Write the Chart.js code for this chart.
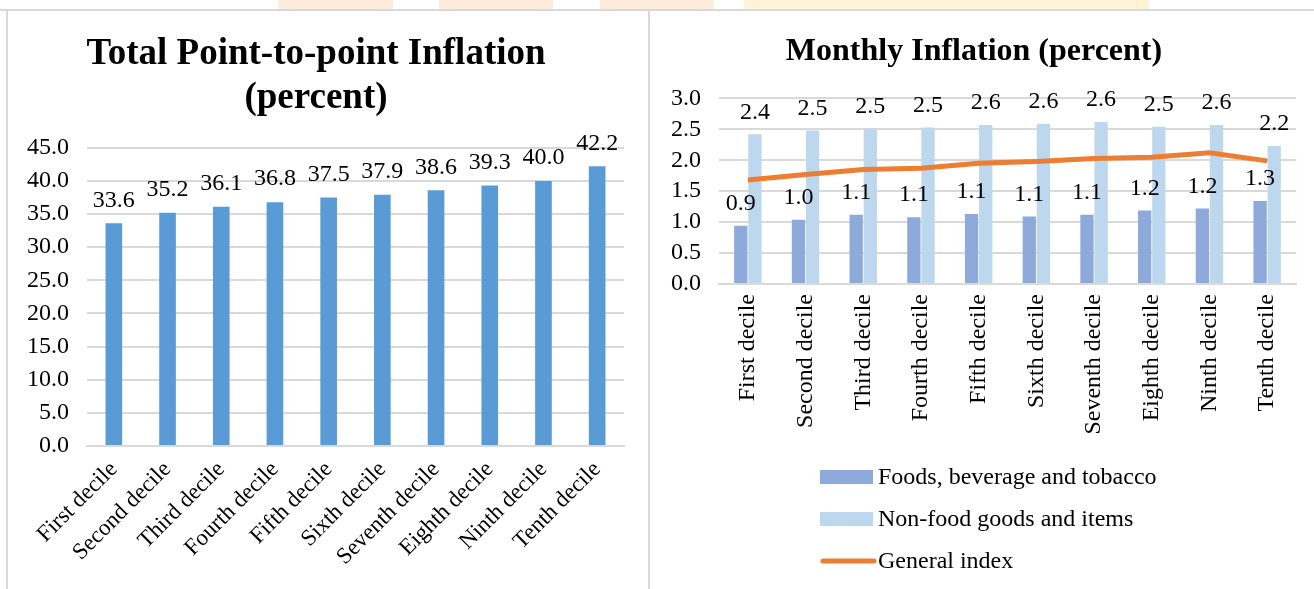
<!DOCTYPE html>
<html>
<head>
<meta charset="utf-8">
<script src="https://cdn.jsdelivr.net/npm/chart.js@4"></script>
<style>
  body { margin: 0; background: #fff; width: 1314px; height: 589px; overflow: hidden; position: relative; }
  .tab { position: absolute; top: 0; height: 9px; background: #fdebdc; }
  .topline { position: absolute; left: 0; top: 9px; width: 1314px; height: 2px; background: #d9d9d9; }
  .panel { position: absolute; top: 10px; height: 579px; }
  #leftPanel { left: 6px; width: 644px; border-left: 2px solid #d9d9d9; border-right: 2px solid #d9d9d9; box-sizing: border-box; }
  #rightPanel { left: 652px; width: 662px; }
  canvas { display: block; }
</style>
</head>
<body>
<div class="tab" style="left:278px;width:115px"></div>
<div class="tab" style="left:439px;width:114px"></div>
<div class="tab" style="left:600px;width:114px"></div>
<div class="tab" style="left:744px;width:405px;background:#fff3d6"></div>
<div class="topline"></div>
<div class="panel" id="leftPanel"><canvas id="totalChart" width="640" height="579"></canvas></div>
<div class="panel" id="rightPanel"><canvas id="monthlyChart" width="662" height="579"></canvas></div>
<script>
const deciles = ['First decile', 'Second decile', 'Third decile', 'Fourth decile', 'Fifth decile',
                 'Sixth decile', 'Seventh decile', 'Eighth decile', 'Ninth decile', 'Tenth decile'];

// total point-to-point inflation by decile
const totalInflation = [33.6, 35.2, 36.1, 36.8, 37.5, 37.9, 38.6, 39.3, 40.0, 42.2];

// monthly inflation by decile
const foodInflation = [0.94, 1.04, 1.12, 1.08, 1.13, 1.09, 1.12, 1.19, 1.22, 1.34];
const nonFoodInflation = [2.42, 2.48, 2.51, 2.53, 2.57, 2.59, 2.62, 2.54, 2.57, 2.23];
const generalIndex = [1.68, 1.77, 1.85, 1.87, 1.95, 1.98, 2.03, 2.05, 2.12, 1.99];

const totalTicks = { min: 0, max: 45, step: 5 };
const monthlyTicks = { min: 0, max: 3, step: 0.5 };

const serif = '"Liberation Serif", "Times New Roman", serif';
const gridColor = '#d9d9d9';

// value labels above bars
const barLabels = {
    id: 'barLabels',
    afterDatasetsDraw(chart, args, opts) {
        const ctx = chart.ctx;
        ctx.save();
        ctx.font = opts.size + 'px ' + serif;
        ctx.fillStyle = '#000';
        ctx.textAlign = 'center';
        ctx.textBaseline = 'middle';
        chart.data.datasets.forEach((ds, i) => {
            if (ds.type === 'line') return;
            chart.getDatasetMeta(i).data.forEach((bar, j) => {
                ctx.fillText(ds.data[j].toFixed(1), bar.x, bar.y - opts.offset);
            });
        });
        ctx.restore();
    }
};

// one legend entry per row, under the axis labels
const stackedLegend = {
    id: 'stackedLegend',
    afterDraw(chart, args, opts) {
        const ctx = chart.ctx;
        ctx.save();
        ctx.font = opts.size + 'px ' + serif;
        ctx.textBaseline = 'middle';
        chart.data.datasets.forEach((ds, i) => {
            const y = opts.top + i * opts.rowGap;
            if (ds.type === 'line') {
                ctx.strokeStyle = ds.borderColor;
                ctx.lineWidth = 5;
                ctx.lineCap = 'round';
                ctx.beginPath();
                ctx.moveTo(opts.left + 3, y);
                ctx.lineTo(opts.left + 54, y);
                ctx.stroke();
            } else {
                ctx.fillStyle = ds.backgroundColor;
                ctx.fillRect(opts.left, y - 7, 53, 14);
            }
            ctx.fillStyle = '#000';
            ctx.fillText(ds.label, opts.left + 58, y + 1);
        });
        ctx.restore();
    }
};

new Chart(document.getElementById('totalChart'), {
    type: 'bar',
    data: {
        labels: deciles,
        datasets: [{
            label: 'Total',
            data: totalInflation,
            backgroundColor: '#5b9bd5',
            categoryPercentage: 0.62,
            barPercentage: 0.5
        }]
    },
    options: {
        responsive: false,
        animation: false,
        layout: { padding: { left: 0, right: 24, top: 0, bottom: 0 } },
        plugins: {
            legend: { display: false },
            tooltip: { enabled: false },
            title: {
                display: true,
                text: ['Total Point-to-point Inflation', '(percent)'],
                color: '#000',
                font: { family: serif, size: 37, weight: 'bold', lineHeight: 1.2 },
                padding: { top: 22, bottom: 27 }
            },
            barLabels: { size: 24, offset: 23 }
        },
        scales: {
            x: {
                grid: { display: false },
                border: { color: gridColor, width: 2 },
                ticks: {
                    color: '#000',
                    font: { family: serif, size: 23 },
                    minRotation: 45,
                    maxRotation: 45,
                    autoSkip: false,
                    padding: 2
                },
                afterFit: s => { s.height = 143; }
            },
            y: {
                min: totalTicks.min,
                max: totalTicks.max,
                grid: { color: gridColor, lineWidth: 2, drawTicks: false },
                border: { display: false },
                ticks: {
                    stepSize: totalTicks.step,
                    autoSkip: false,
                    color: '#000',
                    font: { family: serif, size: 24 },
                    padding: 18,
                    callback: v => v.toFixed(1)
                },
                afterFit: s => { s.width = 79; }
            }
        }
    },
    plugins: [barLabels]
});

new Chart(document.getElementById('monthlyChart'), {
    data: {
        labels: deciles,
        datasets: [
            {
                type: 'bar',
                label: 'Foods, beverage and tobacco',
                data: foodInflation,
                backgroundColor: '#8eaadb',
                categoryPercentage: 0.49,
                barPercentage: 0.94,
                order: 1
            },
            {
                type: 'bar',
                label: 'Non-food goods and items',
                data: nonFoodInflation,
                backgroundColor: '#bdd7ee',
                categoryPercentage: 0.49,
                barPercentage: 0.94,
                order: 1
            },
            {
                type: 'line',
                label: 'General index',
                data: generalIndex,
                borderColor: '#ed7d31',
                backgroundColor: '#ed7d31',
                borderWidth: 5,
                pointRadius: 0,
                tension: 0,
                order: 0
            }
        ]
    },
    options: {
        responsive: false,
        animation: false,
        layout: { padding: { left: 0, right: 18, top: 0, bottom: 150 } },
        plugins: {
            legend: { display: false },
            tooltip: { enabled: false },
            title: {
                display: true,
                text: 'Monthly Inflation (percent)',
                color: '#000',
                font: { family: serif, size: 32, weight: 'bold', lineHeight: 1.2 },
                padding: { top: 23, bottom: 27 }
            },
            barLabels: { size: 24, offset: 22 },
            stackedLegend: { size: 24, left: 168, top: 467, rowGap: 42 }
        },
        scales: {
            x: {
                grid: { display: false },
                border: { color: gridColor, width: 2 },
                ticks: {
                    color: '#000',
                    font: { family: serif, size: 24 },
                    minRotation: 90,
                    maxRotation: 90,
                    autoSkip: false,
                    padding: 2
                },
                afterFit: s => { s.height = 155; }
            },
            y: {
                min: monthlyTicks.min,
                max: monthlyTicks.max,
                grid: { color: gridColor, lineWidth: 2, drawTicks: false },
                border: { display: false },
                ticks: {
                    stepSize: monthlyTicks.step,
                    autoSkip: false,
                    color: '#000',
                    font: { family: serif, size: 24 },
                    padding: 18,
                    callback: v => v.toFixed(1)
                },
                afterFit: s => { s.width = 67; }
            }
        }
    },
    plugins: [barLabels, stackedLegend]
});
</script>
</body>
</html>
